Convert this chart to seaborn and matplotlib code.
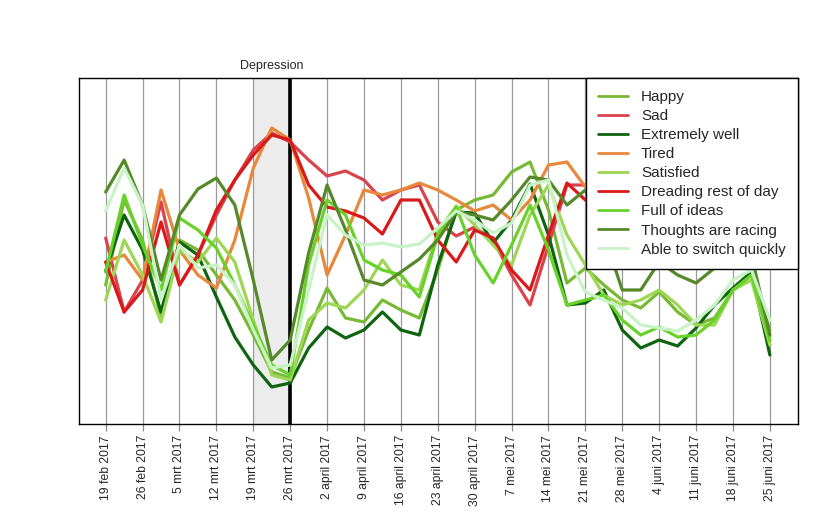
"""
Mood tracking chart: weekly view of feelings around a depressive episode
"""

import pandas as pd
import matplotlib.pyplot as plt
import seaborn as sns

# sample dates (every half week from 19 feb 2017 to 25 juni 2017)
dates = pd.date_range('2017-02-19', periods=37, freq='84h')

week_labels = ['19 feb 2017', '26 feb 2017', '5 mrt 2017', '12 mrt 2017',
               '19 mrt 2017', '26 mrt 2017', '2 april 2017', '9 april 2017',
               '16 april 2017', '23 april 2017', '30 april 2017', '7 mei 2017',
               '14 mei 2017', '21 mei 2017', '28 mei 2017', '4 juni 2017',
               '11 juni 2017', '18 juni 2017', '25 juni 2017']

happy = [139, 224, 184, 106, 184, 174, 149, 124, 89, 52, 46, 94, 136, 106, 102, 124, 114, 106, 154,
         214, 224, 229, 252, 262, 214, 141, 156, 139, 124, 116, 132, 112, 99, 106, 134, 149, 94]
sad = [186, 112, 144, 222, 139, 169, 209, 244, 274, 291, 282, 264, 248, 253, 244, 224, 234, 239, 202,
       188, 197, 184, 149, 119, 179, 239, 239, 224, 234, 214, 204, 224, 234, 214, 204, 194, 174]
extremely_well = [153, 209, 174, 112, 182, 169, 127, 87, 59, 37, 41, 76, 97, 86, 94, 112, 94, 89, 159,
                  212, 211, 181, 204, 240, 189, 119, 121, 134, 94, 76, 84, 78, 96, 119, 136, 152, 69]
tired = [162, 169, 144, 234, 174, 149, 136, 184, 256, 296, 284, 226, 149, 189, 234, 229, 234, 241, 234,
         224, 213, 219, 204, 224, 259, 262, 237, 234, 224, 214, 224, 229, 219, 209, 199, 189, 184]
satisfied = [124, 184, 149, 102, 174, 162, 186, 162, 104, 49, 44, 104, 121, 116, 134, 164, 139, 134, 192,
             218, 199, 179, 159, 209, 239, 189, 159, 129, 119, 124, 134, 119, 99, 99, 134, 144, 79]
dreading = [162, 112, 134, 202, 139, 169, 214, 244, 269, 289, 284, 239, 217, 213, 206, 190, 224, 224, 184,
            162, 194, 186, 154, 134, 189, 241, 224, 214, 224, 234, 219, 209, 224, 234, 224, 209, 194]
full_of_ideas = [152, 229, 179, 134, 206, 194, 176, 139, 99, 59, 49, 159, 224, 209, 164, 154, 149, 127, 189,
                 217, 169, 141, 179, 219, 174, 119, 124, 129, 104, 89, 97, 87, 89, 104, 134, 149, 84]
thoughts_racing = [232, 264, 219, 144, 209, 235, 246, 219, 144, 64, 84, 171, 239, 194, 144, 139, 152, 165, 184,
                   212, 209, 204, 224, 247, 244, 219, 234, 189, 134, 134, 162, 149, 141, 156, 174, 169, 89]
able_to_switch = [213, 256, 219, 124, 179, 156, 159, 139, 94, 56, 59, 134, 209, 189, 179, 181, 177, 180, 196,
                  213, 204, 191, 201, 239, 244, 169, 132, 124, 116, 99, 96, 93, 104, 119, 144, 154, 104]

series = {
    'Happy': happy,
    'Sad': sad,
    'Extremely well': extremely_well,
    'Tired': tired,
    'Satisfied': satisfied,
    'Dreading rest of day': dreading,
    'Full of ideas': full_of_ideas,
    'Thoughts are racing': thoughts_racing,
    'Able to switch quickly': able_to_switch,
}

colors = {
    'Happy': '#78b935',
    'Sad': '#d8434c',
    'Extremely well': '#0f6410',
    'Tired': '#e8883c',
    'Satisfied': '#9ed655',
    'Dreading rest of day': '#d91a1a',
    'Full of ideas': '#69d22a',
    'Thoughts are racing': '#55892a',
    'Able to switch quickly': '#c9f2c6',
}

df = pd.concat([pd.DataFrame({'date': dates, 'score': vals, 'series': name})
                for name, vals in series.items()], ignore_index=True)

sns.set_style('white')
plt.rcParams['font.family'] = ['Liberation Sans', 'DejaVu Sans']

fig = plt.figure(figsize=(8.39, 5.23), dpi=100)
ax = fig.add_axes([79 / 839, 1 - 424 / 523, (798 - 79) / 839, (424 - 78) / 523])

# depression period
dep_start = pd.Timestamp('2017-03-19')
dep_end = pd.Timestamp('2017-03-26')
ax.axvspan(dep_start, dep_end, color='#ececec', lw=0, zorder=0.2)
ax.axvline(dep_end, color='black', lw=2.6, zorder=1.5)

sns.lineplot(data=df, x='date', y='score', hue='series', palette=colors,
             hue_order=list(series.keys()), linewidth=2.3, ax=ax, zorder=2)
for line in ax.get_lines():
    line.set_solid_joinstyle('round')

week_ticks = pd.date_range('2017-02-19', periods=len(week_labels), freq='7D')
ax.set_xticks(week_ticks)
ax.set_xticklabels(week_labels, rotation=90, fontsize=8.7)
ax.set_xlim(pd.Timestamp('2017-02-13 22:30'), pd.Timestamp('2017-06-30 08:00'))
ax.set_ylim(0, 346)
ax.set_yticks([])
ax.set_xlabel('')
ax.set_ylabel('')

ax.set_axisbelow(True)
ax.grid(axis='x', color='#9a9a9a', lw=0.9)
ax.tick_params(axis='x', direction='out', length=5, width=0.9, color='#8c8c8c', pad=3, bottom=True)
for sp in ax.spines.values():
    sp.set_color('black')
    sp.set_linewidth(1)

ax.text(dep_start + (dep_end - dep_start) / 2, 1.036, 'Depression', transform=ax.get_xaxis_transform(),
        ha='center', va='center', fontsize=9)

handles, labels = ax.get_legend_handles_labels()
leg = ax.legend(handles, labels, loc='upper right', bbox_to_anchor=(1, 1), borderaxespad=0,
                fontsize=11, frameon=True, fancybox=False, framealpha=1, edgecolor='black',
                borderpad=0.8, labelspacing=0.33, handlelength=1.96, handletextpad=0.85)
leg.get_frame().set_linewidth(1)
leg.set_zorder(5)
for line in leg.get_lines():
    line.set_linewidth(2)

plt.savefig('out.png', dpi=100)
plt.close()
